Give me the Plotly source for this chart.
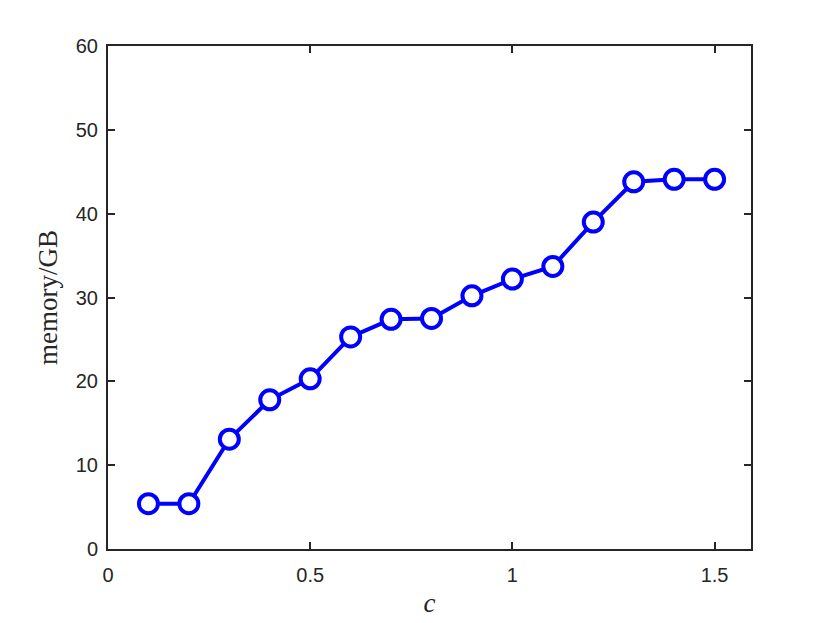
import plotly.graph_objects as go

c_values = [0.1, 0.2, 0.3, 0.4, 0.5, 0.6, 0.7, 0.8, 0.9, 1.0, 1.1, 1.2, 1.3, 1.4, 1.5]
memory_gb = [5.4, 5.4, 13.1, 17.8, 20.3, 25.3, 27.4, 27.5, 30.2, 32.2, 33.7, 39.0, 43.8, 44.1, 44.1]
x_ticks = [0, 0.5, 1, 1.5]
x_tick_labels = ["0", "0.5", "1", "1.5"]
y_ticks = [0, 10, 20, 30, 40, 50, 60]

fig = go.Figure()
fig.add_trace(go.Scatter(
    x=c_values, y=memory_gb, mode="lines+markers",
    line=dict(color="#0000FF", width=4),
    marker=dict(symbol="circle", size=19, color="white",
                line=dict(color="#0000FF", width=4)),
    showlegend=False,
))

axis_common = dict(
    showline=True, mirror="ticks", linecolor="#262626", linewidth=2,
    ticks="inside", ticklen=7, tickwidth=2, tickcolor="#262626",
    showgrid=False, zeroline=False,
    tickfont=dict(family="Liberation Sans, Arial, sans-serif", size=20, color="#262626"),
)

fig.update_layout(
    width=830, height=623,
    margin=dict(l=100, r=87, t=38, b=82),
    paper_bgcolor="white", plot_bgcolor="white",
    xaxis=dict(range=[0, 1.59], tickvals=x_ticks, ticktext=x_tick_labels,
               ticklabelstandoff=7,
               title=dict(text="<i>c</i>", standoff=8,
                          font=dict(family="Liberation Serif, DejaVu Serif, serif", size=27, color="#262626")),
               **axis_common),
    yaxis=dict(range=[0, 60], tickvals=y_ticks,
               ticklabelstandoff=4,
               title=dict(text="memory/GB", standoff=10,
                          font=dict(family="Liberation Serif, DejaVu Serif, serif", size=27, color="#262626")),
               **axis_common),
)

fig.write_html("out.html")
